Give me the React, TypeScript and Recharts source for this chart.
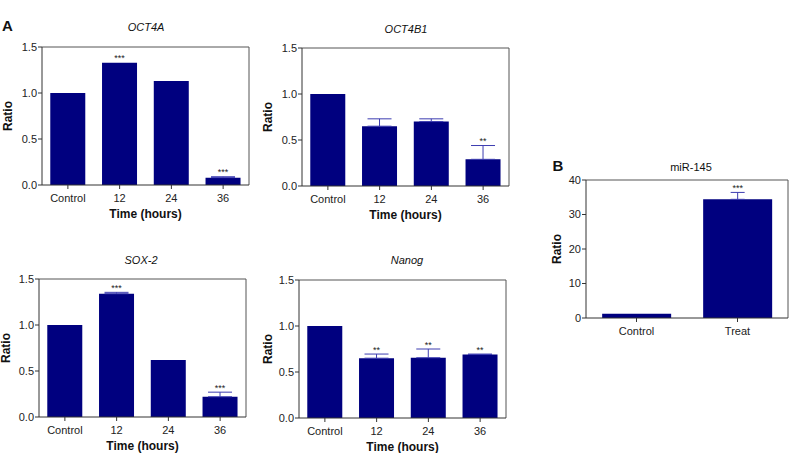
import React from 'react';
import { BarChart, Bar, XAxis, YAxis, ErrorBar, LabelList, CartesianGrid } from 'recharts';

// ---------- data ----------
const timeCategories = ['Control', '12', '24', '36'];

const oct4aValues = [1.0, 1.33, 1.13, 0.08];
const oct4aErrors = [0, 0, 0, 0.01];
const oct4aStars = ['', '***', '', '***'];

const oct4b1Values = [1.0, 0.65, 0.7, 0.29];
const oct4b1Errors = [0, 0.08, 0.03, 0.15];
const oct4b1Stars = ['', '', '', '**'];

const sox2Values = [1.0, 1.34, 0.62, 0.22];
const sox2Errors = [0, 0.015, 0, 0.05];
const sox2Stars = ['', '***', '', '***'];

const nanogValues = [1.0, 0.65, 0.655, 0.69];
const nanogErrors = [0, 0.045, 0.095, 0.005];
const nanogStars = ['', '**', '**', '**'];

const ratioTicks = [0, 0.5, 1.0, 1.5];

const mirCategories = ['Control', 'Treat'];
const mirValues = [1.2, 34.4];
const mirErrors = [0, 2.0];
const mirStars = ['', '***'];
const mirTicks = [0, 10, 20, 30, 40];

// ---------- styles ----------
const FONT = '"Liberation Sans", Arial, Helvetica, sans-serif';
const BAR = '#00007f';
const ERR = '#3c3cb0';
const AXIS = '#333333';
const FRAME = '#555555';

type Row = { cat: string; value: number; err: number[] | undefined; errHigh: number; star: string };

function buildRows(cats: string[], vals: number[], errs: number[], stars: string[]): Row[] {
  return cats.map((c, i) => ({
    cat: c,
    value: vals[i],
    err: errs[i] > 0 ? [0, errs[i]] : undefined,
    errHigh: errs[i],
    star: stars[i],
  }));
}

const makeStarLabel = (rows: Row[]) => (props: any) => {
  const vb = props.viewBox || {};
  const x = Number(props.x ?? vb.x);
  const y = Number(props.y ?? vb.y);
  const width = Number(props.width ?? vb.width);
  const height = Number(props.height ?? vb.height);
  const row = rows[props.index];
  if (!row || !row.star) return null;
  const pxPerUnit = height / row.value;
  const top = y - row.errHigh * pxPerUnit;
  return (
    <text x={x + width / 2} y={top - 1.5} textAnchor="middle" fontSize={9} fill="#222" fontFamily={FONT}>
      {row.star}
    </text>
  );
};

type PanelProps = {
  rows: Row[];
  ticks: number[];
  domain: [number, number];
  decimals: number;
  plotLeft: number;
  plotTop: number;
  plotW: number;
  plotH: number;
  marginRight: number;
  xTitle?: string;
  ratioGap: number;
  errCap: number;
};

const topEdge = (args: any) => [args.offset.top];
const rightEdge = (args: any) => [args.offset.left + args.offset.width];

function Panel(p: PanelProps) {
  const W = p.plotW + 40 + p.marginRight;
  const H = p.plotH + 80;
  return (
    <div style={{ position: 'absolute', left: p.plotLeft - 40, top: p.plotTop - 40, width: W, height: H }}>
      <BarChart
        width={W}
        height={H}
        data={p.rows}
        margin={{ top: 40, right: p.marginRight, bottom: 4, left: 4 }}
        barCategoryGap="16%"
      >
        <CartesianGrid
          stroke={FRAME}
          strokeDasharray=""
          horizontalCoordinatesGenerator={topEdge}
          verticalCoordinatesGenerator={rightEdge}
        />
        <XAxis
          dataKey="cat"
          height={36}
          interval={0}
          tickSize={4}
          tickMargin={5}
          axisLine={{ stroke: AXIS }}
          tickLine={{ stroke: AXIS }}
          tick={{ fontSize: 11, fill: '#222', fontFamily: FONT }}
          label={
            p.xTitle
              ? {
                  value: p.xTitle,
                  position: 'insideBottom',
                  offset: 3,
                  style: { fontSize: 12, fontWeight: 700, fill: '#111', fontFamily: FONT },
                }
              : undefined
          }
        />
        <YAxis
          width={36}
          type="number"
          domain={p.domain}
          ticks={p.ticks}
          interval={0}
          allowDataOverflow
          tickSize={4}
          tickMargin={1}
          axisLine={{ stroke: AXIS }}
          tickLine={{ stroke: AXIS }}
          tick={{ fontSize: 11, fill: '#222', fontFamily: FONT }}
          tickFormatter={(v: number) => v.toFixed(p.decimals)}
          label={{
            value: 'Ratio',
            angle: -90,
            position: 'insideLeft',
            offset: 36 - p.ratioGap,
            style: { textAnchor: 'middle', fontSize: 12, fontWeight: 700, fill: '#111', fontFamily: FONT },
          }}
        />
        <Bar dataKey="value" fill={BAR} isAnimationActive={false}>
          <ErrorBar dataKey="err" width={p.errCap} stroke={ERR} strokeWidth={1} direction="y" />
          <LabelList dataKey="star" content={makeStarLabel(p.rows)} />
        </Bar>
      </BarChart>
    </div>
  );
}

const oct4aRows = buildRows(timeCategories, oct4aValues, oct4aErrors, oct4aStars);
const oct4b1Rows = buildRows(timeCategories, oct4b1Values, oct4b1Errors, oct4b1Stars);
const sox2Rows = buildRows(timeCategories, sox2Values, sox2Errors, sox2Stars);
const nanogRows = buildRows(timeCategories, nanogValues, nanogErrors, nanogStars);
const mirRows = buildRows(mirCategories, mirValues, mirErrors, mirStars);

export default function App() {
  const titleStyle = { fontSize: 11, fontStyle: 'italic' as const, fill: '#111', fontFamily: FONT };
  return (
    <div
      style={{
        position: 'absolute',
        left: 0,
        top: 0,
        width: 793,
        height: 453,
        overflow: 'hidden',
        background: '#fff',
        fontFamily: FONT,
      }}
    >
      <Panel rows={oct4aRows} ticks={ratioTicks} domain={[0, 1.5]} decimals={1} plotLeft={42} plotTop={47} plotW={207} plotH={138} marginRight={10} xTitle="Time (hours)" ratioGap={34} errCap={12} />
      <Panel rows={oct4b1Rows} ticks={ratioTicks} domain={[0, 1.5]} decimals={1} plotLeft={302} plotTop={48} plotW={207} plotH={138} marginRight={10} xTitle="Time (hours)" ratioGap={34} errCap={12} />
      <Panel rows={sox2Rows} ticks={ratioTicks} domain={[0, 1.5]} decimals={1} plotLeft={39} plotTop={279} plotW={207} plotH={138} marginRight={10} xTitle="Time (hours)" ratioGap={33} errCap={12} />
      <Panel rows={nanogRows} ticks={ratioTicks} domain={[0, 1.5]} decimals={1} plotLeft={299} plotTop={280} plotW={207} plotH={138} marginRight={10} xTitle="Time (hours)" ratioGap={31} errCap={12} />
      <Panel rows={mirRows} ticks={mirTicks} domain={[0, 40]} decimals={0} plotLeft={586} plotTop={180} plotW={202} plotH={138} marginRight={4} ratioGap={29} errCap={7} />

      <svg width={793} height={453} style={{ position: 'absolute', left: 0, top: 0, pointerEvents: 'none' }}>
        <text x={7.5} y={25.5} textAnchor="middle" dominantBaseline="central" fontSize={15} fontWeight={700} fill="#111" fontFamily={FONT}>A</text>
        <text x={558} y={165.5} textAnchor="middle" dominantBaseline="central" fontSize={15} fontWeight={700} fill="#111" fontFamily={FONT}>B</text>
        <text x={146} y={27} textAnchor="middle" dominantBaseline="central" {...titleStyle}>OCT4A</text>
        <text x={406} y={29} textAnchor="middle" dominantBaseline="central" {...titleStyle}>OCT4B1</text>
        <text x={141} y={259.5} textAnchor="middle" dominantBaseline="central" {...titleStyle}>SOX-2</text>
        <text x={407} y={259.5} textAnchor="middle" dominantBaseline="central" {...titleStyle}>Nanog</text>
        <text x={691} y={166.5} textAnchor="middle" dominantBaseline="central" fontSize={11} fill="#111" fontFamily={FONT}>miR-145</text>
      </svg>
    </div>
  );
}
